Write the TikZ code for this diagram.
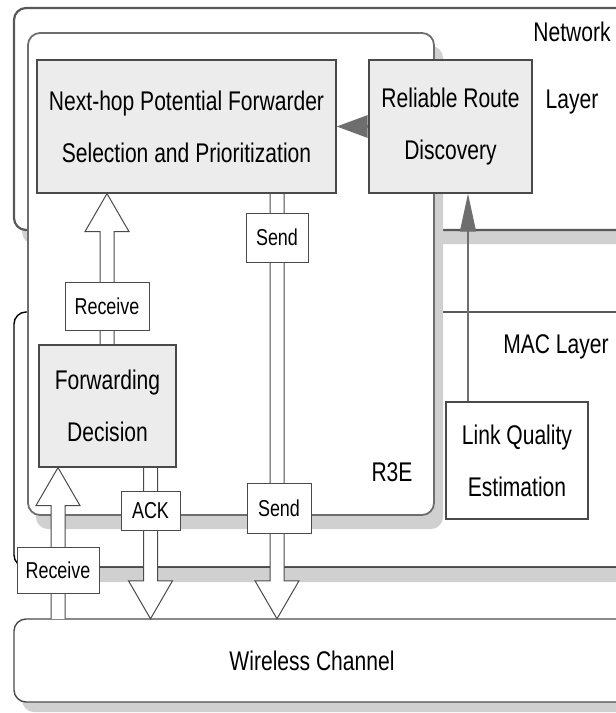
\documentclass[tikz,border=0pt]{standalone}
\usepackage{fontspec}
\setmainfont{Liberation Sans}[FakeStretch=0.78]
\usetikzlibrary{arrows.meta,calc}

\definecolor{boxgray}{HTML}{ECECEC}
\definecolor{shadegray}{HTML}{D0D0D0}
\definecolor{linegray}{HTML}{4A4A4A}
\definecolor{arrowgray}{HTML}{6E6E6E}

\newcommand\bigfont{\fontsize{27}{52}\selectfont}
\newcommand\lblfont{\fontsize{23}{28}\selectfont}

\pgfdeclarelayer{back}
\pgfdeclarelayer{mid}
\pgfsetlayers{back,mid,main}

% hollow arrow: start, tip, direction (1 up, -1 down)
\newcommand\hollowarrow[3]{%
  \draw[hollow] let \p1=#1, \p2=#2, \n1={\y2-(#3)*38pt} in
    ({\x1-7pt},\y1) -- ({\x1-7pt},\n1) -- ({\x1-22pt},\n1)
    -- (\x1,\y2) -- ({\x1+22pt},\n1) -- ({\x1+7pt},\n1)
    -- ({\x1+7pt},\y1);}

\begin{document}
\begin{tikzpicture}[x=1pt,y=1pt]
   \tikzset{
     block/.style={draw=linegray, line width=1.2pt, fill=boxgray, inner sep=0pt,
                   align=center, font=\bigfont},
     lbl/.style={draw=linegray, line width=1pt, fill=white, inner sep=0pt, font=\lblfont},
     layerbox/.style={draw=linegray, line width=1.4pt, fill=white, rounded corners=12pt},
     shade/.style={fill=shadegray, rounded corners=12pt},
     hollow/.style={draw=linegray, line width=1pt, fill=white}
   }
   \useasboundingbox (0,0) rectangle (616,-713);

   % layers and containers
   \begin{pgfonlayer}{back}
   \fill[shade] (22,-21) rectangle (648,-244);
   \draw[layerbox, draw=arrowgray!80!black, line width=2.2pt] (14,-8) rectangle (640,-230);
   \fill[shade] (22,-325) rectangle (648,-582);
   \draw[layerbox, draw=black] (14,-312) rectangle (640,-567);
   \fill[shade] (36,-46) rectangle (443,-529);
   \draw[layerbox, draw=arrowgray, line width=1.8pt] (28,-33) rectangle (434,-515);
   \fill[shade] (22,-630) rectangle (648,-712);
   \draw[layerbox] (14,-619) rectangle (640,-702);
   \end{pgfonlayer}

   \node[block, minimum width=299pt, minimum height=133pt] (npf) at (186.5,-126.5)
     {Next-hop Potential Forwarder\\Selection and Prioritization};
   \node[block, minimum width=163pt, minimum height=133pt] (rrd) at (450.5,-126.5)
     {Reliable Route\\Discovery};
   \node[block, minimum width=137pt, minimum height=122pt] (fd) at (107.5,-406)
     {Forwarding\\Decision};
   \node[block, fill=white, minimum width=142pt, minimum height=117pt] (lqe) at (517,-460.5)
     {Link Quality\\Estimation};
   \node[minimum width=596pt, minimum height=83pt, inner sep=0pt, font=\bigfont] (wc)
     at (312,-660.5) {Wireless Channel};

   \node[font=\fontsize{27}{67}\selectfont, align=center] (netl) at (572,-68) {Network\\Layer};
   \node[font=\bigfont] (macl) at (556,-347) {MAC Layer};
   \node[font=\bigfont] (r3e) at (392,-472) {R3E};

   \node[lbl, minimum width=84pt, minimum height=48pt] (rcvA) at (107,-306) {Receive};
   \node[lbl, minimum width=62pt, minimum height=49pt] (sendA) at (277,-237.5) {Send};
   \node[lbl, minimum width=64pt, minimum height=50pt] (sendB) at (279,-508) {Send};
   \node[lbl, minimum width=59pt, minimum height=39pt] (ack) at (150.5,-510.5) {ACK};
   \node[lbl, minimum width=82pt, minimum height=46pt] (rcvB) at (58,-570) {Receive};

   \draw[-{Triangle[length=31pt,width=22pt]}, line width=3pt, arrowgray] (rrd.west) -- (npf.east);
   \coordinate (lqx) at ([xshift=17.5pt]rrd.south);
   \draw[-{Triangle[length=38pt,width=16pt]}, line width=1.4pt, arrowgray] (lqe.north -| lqx) -- (lqx);

   \begin{pgfonlayer}{mid}
   \hollowarrow{(fd.north -| rcvA)}{(npf.south -| rcvA)}{1}
   \hollowarrow{(npf.south -| sendA)}{(wc.north -| sendA)}{-1}
   \hollowarrow{(fd.south -| ack)}{(wc.north -| ack)}{-1}
   \hollowarrow{(wc.north -| rcvB)}{(fd.south -| rcvB)}{1}
   \end{pgfonlayer}
\end{tikzpicture}
\end{document}
